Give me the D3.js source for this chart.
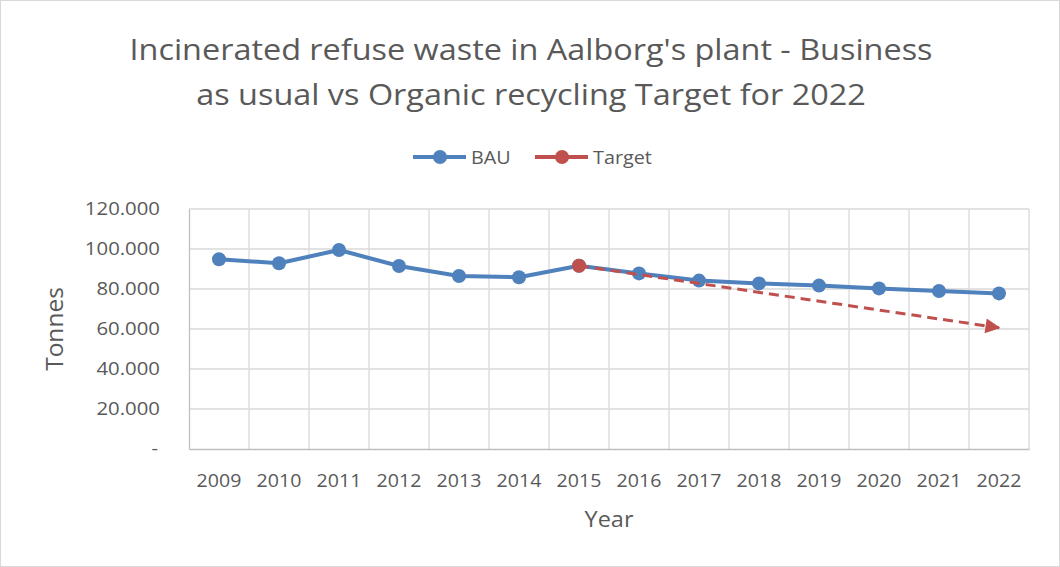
<!DOCTYPE html>
<html><head><meta charset="utf-8">
<script src="https://cdn.jsdelivr.net/npm/d3@7"></script>
<style>body{margin:0;background:#fff;}svg{display:block;}</style>
</head><body><svg id="c" width="1060" height="567"></svg>
<script>
const years = ["2009","2010","2011","2012","2013","2014","2015","2016","2017","2018","2019","2020","2021","2022"];
const bau = [94900, 92900, 99500, 91500, 86500, 85900, 91650, 87800, 84200, 82800, 81700, 80300, 79000, 77800];
const targetYears = ["2015", "2022"];
const targetValues = [91650, 60600];
const yTicks = [0, 20000, 40000, 60000, 80000, 100000, 120000];
const titleLines = ["Incinerated refuse waste in Aalborg's plant - Business", "as usual vs Organic recycling Target for 2022"];

const font = "'Open Sans', sans-serif";
const svg = d3.select("#c");
const W = 1060, H = 567;
const m = {left: 189, right: 1029, top: 209, bottom: 449};
const blue = "#4F81BD", red = "#C0504D", txt = "#595959";

svg.append("rect").attr("x", 0.5).attr("y", 0.5).attr("width", W - 1).attr("height", H - 1)
  .attr("fill", "#fff").attr("stroke", "#d9d9d9");

const x = d3.scaleBand().domain(years).range([m.left, m.right]);
const y = d3.scaleLinear().domain([0, 120000]).range([m.bottom, m.top]);
const cx = d => x(d) + x.bandwidth() / 2;

const g = svg.append("g");
g.selectAll(".hg").data(yTicks.slice(1)).join("line")
  .attr("x1", m.left).attr("x2", m.right).attr("y1", d => y(d)).attr("y2", d => y(d))
  .attr("stroke", "#d9d9d9").attr("stroke-width", 1.3);
g.selectAll(".vg").data(years.slice(1).concat(["end"])).join("line")
  .attr("x1", d => d === "end" ? m.right : x(d)).attr("x2", d => d === "end" ? m.right : x(d))
  .attr("y1", m.top).attr("y2", m.bottom)
  .attr("stroke", "#d9d9d9").attr("stroke-width", 1.3);

const yAxis = d3.axisLeft(y).tickValues(yTicks).tickSize(0).tickPadding(29)
  .tickFormat(d => d === 0 ? "-" : d3.format(",")(d).replace(/,/g, "."));
const ya = svg.append("g").attr("transform", `translate(${m.left},0)`).call(yAxis);
ya.select(".domain").attr("stroke", "#bfbfbf").attr("stroke-width", 1.3);
ya.selectAll("text").attr("font-family", font).attr("font-size", 18.5).attr("fill", txt)
  .attr("x", 0).attr("transform", d => `translate(${d === 0 ? -31 : -29},0) scale(1.1,1)`);

const xAxis = d3.axisBottom(x).tickSize(0).tickPadding(25.5);
const xa = svg.append("g").attr("transform", `translate(0,${m.bottom})`).call(xAxis);
xa.select(".domain").attr("stroke", "#bfbfbf").attr("stroke-width", 1.3);
xa.selectAll("text").attr("font-family", font).attr("font-size", 17.5).attr("fill", txt)
  .attr("transform", "scale(1.12,1)");

const line = d3.line().x((d, i) => cx(years[i])).y(d => y(d));
svg.append("path").datum(bau).attr("d", line).attr("fill", "none")
  .attr("stroke", blue).attr("stroke-width", 4).attr("stroke-linejoin", "round");
svg.selectAll(".bm").data(bau).join("circle")
  .attr("cx", (d, i) => cx(years[i])).attr("cy", d => y(d)).attr("r", 7).attr("fill", blue);

const defs = svg.append("defs");
defs.append("marker").attr("id", "arr").attr("viewBox", "0 0 10 10").attr("refX", 9).attr("refY", 5)
  .attr("markerWidth", 6).attr("markerHeight", 5).attr("markerUnits", "strokeWidth").attr("orient", "auto")
  .append("path").attr("d", "M0,0 L10,5 L0,10 Z").attr("fill", red);
const tline = d3.line().x((d, i) => cx(targetYears[i])).y(d => y(d));
svg.append("path").datum(targetValues).attr("d", tline).attr("fill", "none")
  .attr("stroke", red).attr("stroke-width", 3).attr("stroke-dasharray", "10,6")
  .attr("marker-end", "url(#arr)");
svg.append("circle").attr("cx", cx(targetYears[0])).attr("cy", y(targetValues[0])).attr("r", 7).attr("fill", red);

svg.selectAll(".title").data(titleLines).join("text")
  .attr("transform", (d, i) => `translate(531,${60 + i * 44.5}) scale(1.08,1)`).attr("text-anchor", "middle")
  .attr("font-family", font).attr("font-size", 30).attr("fill", txt).text(d => d);

const legend = [{name: "BAU", color: blue, x: 413}, {name: "Target", color: red, x: 535}];
const lg = svg.selectAll(".lg").data(legend).join("g").attr("transform", d => `translate(${d.x},157)`);
lg.append("line").attr("x1", 0).attr("x2", 53).attr("stroke", d => d.color).attr("stroke-width", 4);
lg.append("circle").attr("cx", 27).attr("r", 7).attr("fill", d => d.color);
lg.append("text").attr("transform", "translate(58,6.5) scale(1.07,1)").attr("font-family", font).attr("font-size", 18.5)
  .attr("fill", txt).text(d => d.name);

svg.append("text").attr("transform", "translate(609,526.5) scale(1.12,1)").attr("text-anchor", "middle")
  .attr("font-family", font).attr("font-size", 21).attr("fill", txt).text("Year");
svg.append("text").attr("transform", "translate(63,329) rotate(-90)").attr("text-anchor", "middle")
  .attr("font-family", font).attr("font-size", 24.5).attr("fill", txt).text("Tonnes");
</script></body></html>
